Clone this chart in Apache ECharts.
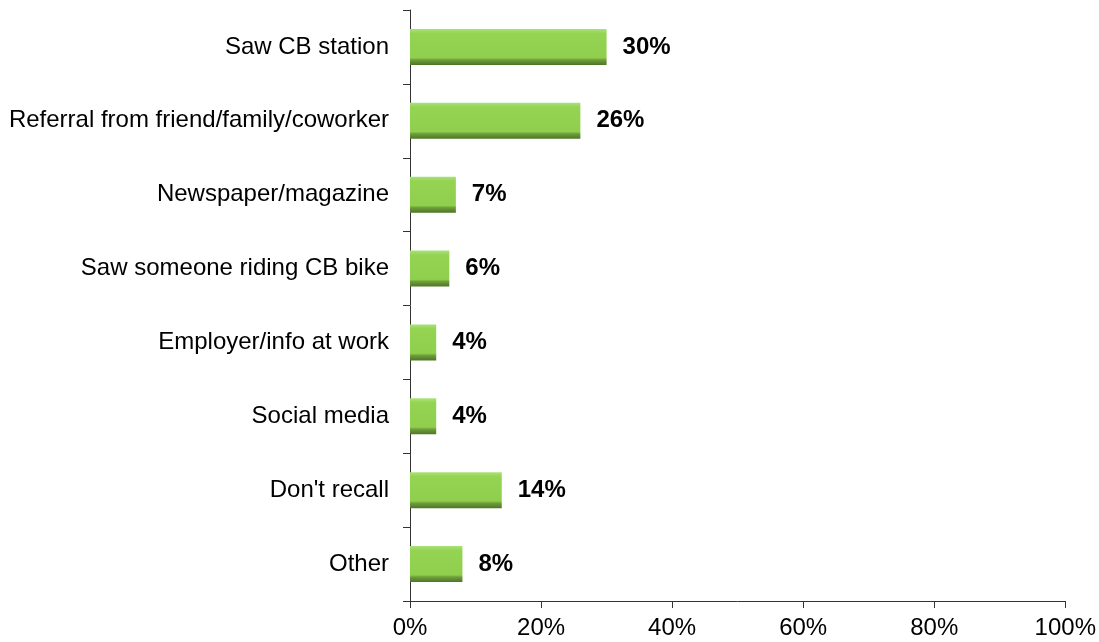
<!DOCTYPE html>
<html>
<head>
<meta charset="utf-8">
<script src="https://cdn.jsdelivr.net/npm/echarts@6/dist/echarts.min.js"></script>
<style>
  html, body { margin: 0; padding: 0; background: #fff; }
  #chart { width: 1099px; height: 642px; }
</style>
</head>
<body>
<div id="chart"></div>
<script>
var categories = ['Saw CB station', 'Referral from friend/family/coworker', 'Newspaper/magazine',
    'Saw someone riding CB bike', 'Employer/info at work', 'Social media', "Don't recall", 'Other'];
var percents = [30, 26, 7, 6, 4, 4, 14, 8];
var tickValues = [0, 20, 40, 60, 80, 100];

var myChart = echarts.init(document.getElementById('chart'));

// green bar with light top edge and dark bottom edge, like the original 3D look
var barColor = new echarts.graphic.LinearGradient(0, 0, 0, 1, [
    {offset: 0, color: '#a9e27a'},
    {offset: 0.12, color: '#95d452'},
    {offset: 0.8, color: '#90cf4e'},
    {offset: 0.86, color: '#6f9e3a'},
    {offset: 1, color: '#4d7526'}
]);

var option = {
    animation: false,
    grid: {left: 410, right: 33, top: 10, bottom: 41, containLabel: false},
    xAxis: {
        type: 'value',
        min: tickValues[0],
        max: tickValues[tickValues.length - 1],
        interval: 20,
        axisLine: {show: true, lineStyle: {color: '#333', width: 1}},
        axisTick: {show: true, length: 7, lineStyle: {color: '#333'}},
        splitLine: {show: false},
        axisLabel: {
            formatter: '{value}%',
            fontFamily: 'Liberation Sans, Arial',
            fontSize: 24,
            color: '#000',
            margin: 15
        }
    },
    yAxis: {
        type: 'category',
        inverse: true,
        data: categories,
        axisLine: {show: true, lineStyle: {color: '#333', width: 1}},
        axisTick: {show: true, length: 7, lineStyle: {color: '#333'}},
        axisLabel: {
            fontFamily: 'Liberation Sans, Arial',
            fontSize: 24,
            color: '#000',
            margin: 21
        }
    },
    series: [{
        type: 'bar',
        data: percents,
        barWidth: 36,
        itemStyle: {color: barColor},
        label: {
            show: true,
            position: 'right',
            distance: 16,
            formatter: '{c}%',
            fontFamily: 'Liberation Sans, Arial',
            fontSize: 24,
            fontWeight: 'bold',
            color: '#000'
        }
    }]
};

myChart.setOption(option);
</script>
</body>
</html>
